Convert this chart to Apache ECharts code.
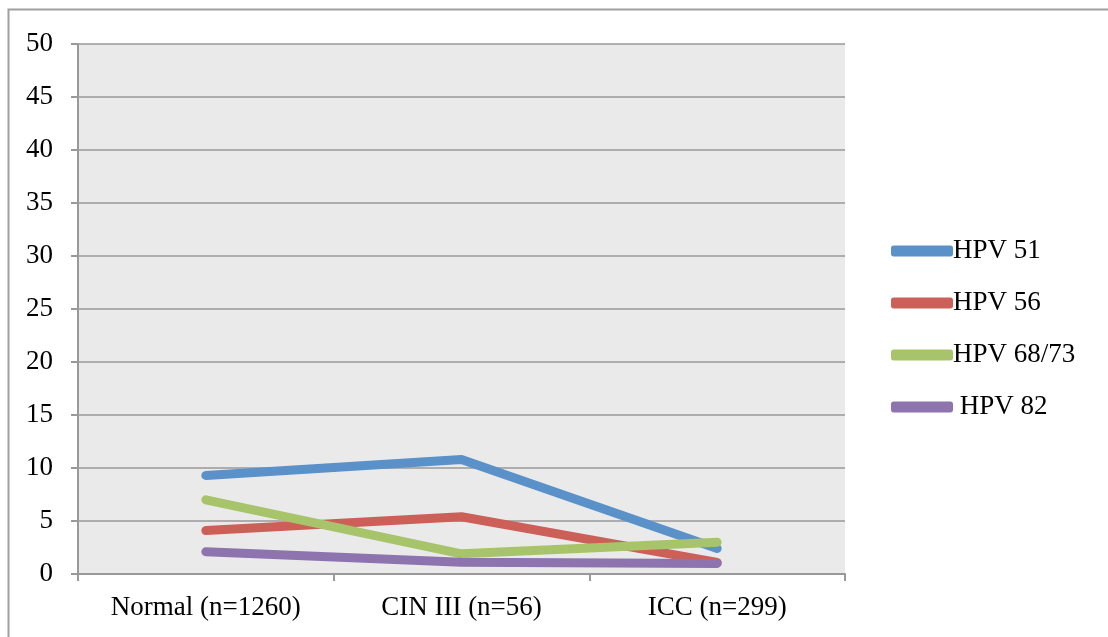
<!DOCTYPE html>
<html>
<head>
<meta charset="utf-8">
<script src="https://cdn.jsdelivr.net/npm/echarts@6/dist/echarts.min.js"></script>
<style>
  html, body { margin: 0; padding: 0; background: #fff; }
  #main { width: 1108px; height: 637px; }
</style>
</head>
<body>
<div id="main"></div>
<script>
var categories = ['Normal (n=1260)', 'CIN III (n=56)', 'ICC (n=299)'];
var seriesNames = ['HPV 51', 'HPV 56', 'HPV 68/73', ' HPV 82'];
var hpv51 = [9.3, 10.8, 2.4];
var hpv56 = [4.1, 5.4, 1.1];
var hpv6873 = [7.0, 1.9, 3.0];
var hpv82 = [2.1, 1.1, 1.0];
var colors = ['#5A91C9', '#CD5F59', '#A7C46A', '#8D74AE'];

var myChart = echarts.init(document.getElementById('main'));
var font = '"Liberation Serif", "DejaVu Serif", serif';

function mkLine(name, data, color) {
    return {
        name: name,
        type: 'line',
        data: data,
        symbol: 'none',
        lineStyle: { width: 9, color: color, cap: 'round', join: 'round' },
        itemStyle: { color: color }
    };
}

var option = {
    animation: false,
    graphic: [{
        type: 'rect',
        left: 6, top: 7,
        shape: { width: 1200, height: 700 },
        style: { fill: 'none', stroke: '#a0a0a0', lineWidth: 2 },
        silent: true
    }],
    grid: {
        left: 78, top: 44, width: 767, height: 530,
        show: true, backgroundColor: '#EAEAEA', borderWidth: 0
    },
    legend: {
        orient: 'vertical',
        left: 886, top: 231,
        icon: 'roundRect',
        itemWidth: 62, itemHeight: 11,
        itemGap: 22,
        data: seriesNames,
        textStyle: { fontFamily: font, fontSize: 27, color: '#000', lineHeight: 30, padding: [0, 0, 0, -5] }
    },
    xAxis: {
        type: 'category',
        data: categories,
        boundaryGap: true,
        axisLine: { lineStyle: { color: '#999', width: 2 } },
        axisTick: { show: true, length: 7, lineStyle: { color: '#999', width: 2 } },
        axisLabel: { fontFamily: font, fontSize: 27, color: '#000', margin: 20 }
    },
    yAxis: {
        type: 'value',
        min: 0, max: 50, interval: 5,
        axisLine: { show: true, lineStyle: { color: '#999', width: 2 } },
        axisTick: { show: true, length: 7, lineStyle: { color: '#999', width: 2 } },
        splitLine: { lineStyle: { color: '#999', width: 1.5 } },
        axisLabel: { fontFamily: font, fontSize: 27, color: '#000', margin: 25 }
    },
    series: [
        mkLine(seriesNames[0], hpv51, colors[0]),
        mkLine(seriesNames[1], hpv56, colors[1]),
        mkLine(seriesNames[2], hpv6873, colors[2]),
        mkLine(seriesNames[3], hpv82, colors[3])
    ]
};
myChart.setOption(option);
</script>
</body>
</html>
